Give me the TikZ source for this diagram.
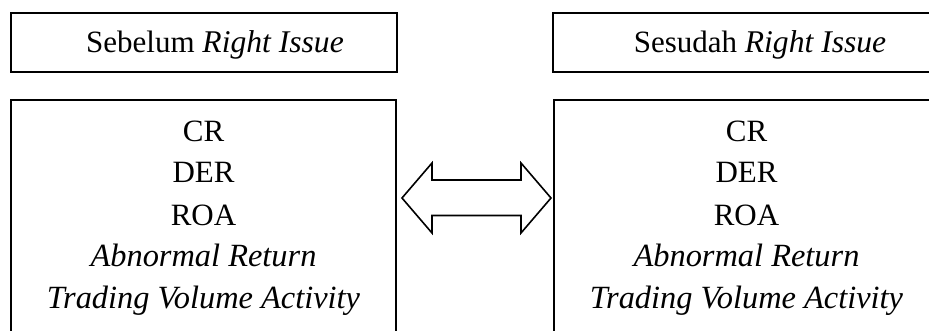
\documentclass[tikz,border=0pt]{standalone}
\usepackage{fontspec}
\setmainfont{Liberation Serif}
\begin{document}
\begin{tikzpicture}[x=0.5pt,y=-0.5pt,
  box/.style={draw,line width=1pt,inner sep=0pt},
  txt/.style={anchor=base,inner sep=0pt,font=\fontsize{15.5}{18}\selectfont},
  itxt/.style={anchor=base,inner sep=0pt,font=\fontsize{16.2}{18}\selectfont\itshape},
  blockarrow/.style={draw,line width=0.8pt,line join=miter,fill=white}]
\useasboundingbox (0,0) rectangle (929,331);
% top boxes
\node[box, minimum width=193pt, minimum height=29.5pt] (tl) at (204,42.5) {};
\node[box, minimum width=193.5pt, minimum height=29.5pt] (tr) at (746.5,42.5) {};
\node[txt] (tlt) at (215,53) {Sebelum {\fontsize{15.8}{18}\selectfont\itshape Right Issue}};
\node[txt] (trt) at (760,53) {Sesudah {\fontsize{15.8}{18}\selectfont\itshape Right Issue}};
% lower boxes
\node[box, minimum width=192.5pt, minimum height=122.5pt] (bl) at (203.5,222.5) {};
\node[box, minimum width=193.25pt, minimum height=122.5pt] (br) at (746.75,222.5) {};
% left texts
\node[txt] (l1) at (203.5,141) {CR};
\node[txt] (l2) at (203.5,182.7) {DER};
\node[txt] (l3) at (203.5,225) {ROA};
\node[itxt] (l4) at (203.5,266.5) {Abnormal Return};
\node[itxt] (l5) at (203.5,308) {Trading Volume Activity};
% right texts
\node[txt] (r1) at (746.5,141) {CR};
\node[txt] (r2) at (746.5,182.7) {DER};
\node[txt] (r3) at (746.5,225) {ROA};
\node[itxt] (r4) at (746.5,266.5) {Abnormal Return};
\node[itxt] (r5) at (746.5,308) {Trading Volume Activity};
% double block arrow
\coordinate (al) at (402,198);
\coordinate (ar) at (551,198);
\draw[blockarrow] (al) -- (432,163) -- (432,180) -- (521,180) -- (521,163) -- (ar)
  -- (521,233) -- (521,215.5) -- (432,215.5) -- (432,233) -- cycle;
\end{tikzpicture}
\end{document}
